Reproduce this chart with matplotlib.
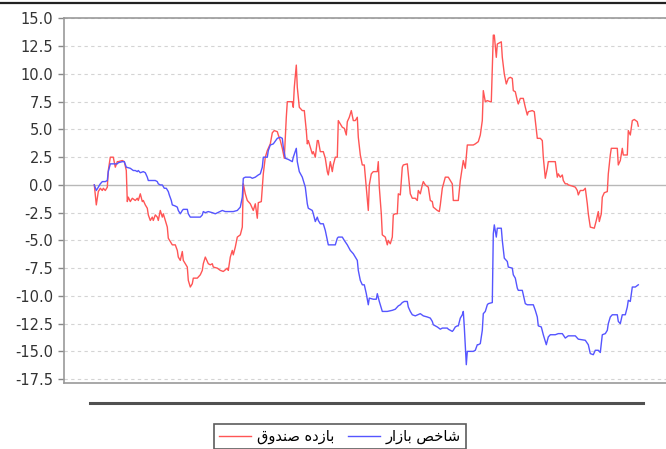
import matplotlib
matplotlib.use("Agg")
import matplotlib.pyplot as plt
from matplotlib.lines import Line2D
from matplotlib.ticker import FormatStrFormatter

# ---------------- data ----------------
series_names = ["بازده صندوق", "شاخص بازار"]   # fund return, market index

fund_t = [0, 2, 4, 6, 8, 9, 11, 13, 14, 16, 19, 21, 23, 24, 28, 30, 32, 33, 34, 36,
          38, 41, 43, 44, 46, 48, 49, 51, 53, 54, 56, 58, 59, 61, 63, 64, 66, 68, 69, 71,
          73, 74, 76, 78, 81, 83, 84, 86, 88, 89, 91, 93, 94, 96, 98, 99, 103, 106, 108, 109,
          111, 114, 116, 118, 119, 123, 126, 129, 133, 134, 136, 138, 139, 141, 143, 146, 148, 149, 151, 153,
          156, 159, 161, 163, 164, 167, 169, 171, 173, 176, 178, 180, 183, 184, 186, 188, 190, 192, 193, 198,
          199, 200, 202, 203, 205, 208, 210, 212, 213, 214, 216, 218, 219, 221, 223, 224, 226, 229, 231, 233,
          234, 236, 238, 239, 241, 243, 244, 246, 248, 250, 252, 253, 255, 257, 259, 261, 263, 264, 266, 268,
          270, 272, 274, 275, 277, 279, 283, 284, 285, 287, 288, 291, 293, 294, 296, 298, 299, 301, 303, 304,
          306, 308, 309, 313, 314, 316, 318, 321, 323, 324, 326, 328, 329, 331, 334, 336, 338, 339, 343, 345,
          346, 348, 351, 354, 358, 359, 363, 364, 366, 368, 369, 371, 373, 379, 381, 384, 386, 388, 389, 391,
          393, 396, 397, 399, 400, 402, 403, 407, 408, 410, 412, 414, 416, 418, 419, 421, 423, 424, 426, 429,
          431, 433, 434, 438, 440, 441, 443, 446, 448, 449, 451, 453, 454, 461, 463, 464, 466, 468, 469, 471,
          473, 474, 478, 481, 483, 484, 486, 489, 491, 493, 494, 496, 500, 502, 504, 505, 507, 508, 510, 513,
          514, 516, 517, 521, 523, 524, 526, 528, 529, 533, 534, 536, 538, 540, 543, 544]
fund_v = [0.0, -1.8, -0.6, -0.3, -0.5, -0.3, -0.5, -0.2, 1.3, 2.5, 2.5, 1.6, 2.1, 2.1, 2.2, 2.1, 1.3, -1.5, -1.1, -1.5,
          -1.2, -1.4, -1.2, -1.4, -0.8, -1.5, -1.4, -1.8, -2.1, -2.7, -3.2, -2.9, -3.2, -2.7, -2.9, -3.2, -2.3, -2.9, -2.6, -3.2,
          -3.8, -4.8, -5.1, -5.4, -5.4, -5.9, -6.5, -6.8, -6.0, -6.8, -7.1, -7.4, -8.6, -9.2, -8.9, -8.4, -8.4, -8.1, -7.7, -7.1,
          -6.5, -7.1, -7.2, -7.1, -7.4, -7.5, -7.7, -7.8, -7.5, -7.7, -6.5, -5.9, -6.3, -5.6, -4.7, -4.5, -3.8, 0.1, -0.8, -1.4,
          -1.7, -2.3, -1.7, -3.0, -1.6, -1.5, 1.0, 2.5, 3.1, 3.7, 4.7, 4.9, 4.8, 4.5, 4.0, 3.3, 2.4, 6.1, 7.5, 7.5,
          7.0, 8.8, 10.8, 8.8, 7.0, 6.7, 6.7, 4.9, 3.7, 4.0, 3.4, 2.8, 3.0, 2.5, 4.0, 4.0, 3.0, 3.0, 2.4, 1.2,
          0.9, 2.1, 1.2, 1.8, 2.5, 2.5, 5.8, 5.5, 5.2, 5.1, 4.5, 5.7, 6.1, 6.7, 5.8, 5.8, 6.1, 4.3, 2.7, 1.8,
          1.8, -0.2, -2.3, 0.0, 1.0, 1.2, 1.2, 2.1, -0.2, -2.6, -4.5, -4.7, -5.4, -5.0, -5.3, -4.7, -2.7, -2.6, -2.6, -0.8,
          -0.9, 1.6, 1.8, 1.9, 1.0, -0.8, -1.2, -1.2, -1.4, -0.5, -0.8, 0.0, 0.3, 0.0, -0.2, -1.4, -1.5, -2.0, -2.3, -2.4,
          -1.8, -0.3, 0.7, 0.7, 0.1, -1.4, -1.4, -1.4, 0.4, 1.6, 2.2, 1.5, 3.6, 3.6, 3.7, 3.9, 4.5, 5.8, 8.5, 7.5,
          7.6, 7.5, 7.5, 13.5, 13.5, 11.5, 12.7, 12.9, 11.5, 10.0, 9.1, 9.6, 9.7, 9.6, 8.5, 8.4, 7.6, 7.3, 7.8, 7.8,
          7.0, 6.3, 6.6, 6.7, 6.6, 5.8, 4.2, 4.2, 4.0, 2.5, 0.6, 1.5, 2.1, 2.1, 0.7, 1.0, 0.7, 0.9, 0.4, 0.1,
          0.1, 0.0, -0.1, -0.2, -0.5, -0.9, -0.5, -0.5, -0.3, -1.7, -2.6, -3.8, -3.9, -3.2, -2.4, -3.3, -2.6, -1.1, -0.7, -0.6,
          1.0, 2.7, 3.3, 3.3, 3.3, 1.8, 2.2, 3.3, 2.7, 2.7, 4.9, 4.5, 5.8, 5.9, 5.7, 5.3]

index_t = [0, 2, 4, 6, 8, 11, 13, 14, 16, 19, 23, 24, 28, 30, 32, 36, 39, 41, 43, 44,
           46, 49, 51, 53, 54, 61, 63, 64, 66, 68, 70, 72, 74, 75, 77, 78, 81, 83, 84, 86,
           88, 89, 93, 94, 96, 101, 106, 108, 109, 111, 114, 118, 121, 128, 131, 139, 143, 146, 148, 149,
           151, 156, 158, 161, 164, 166, 168, 169, 173, 174, 176, 179, 183, 186, 188, 189, 191, 194, 198, 199,
           202, 203, 205, 208, 211, 213, 214, 218, 219, 221, 223, 224, 226, 229, 231, 233, 234, 241, 243, 244,
           248, 250, 253, 256, 259, 261, 263, 264, 266, 268, 270, 272, 274, 275, 279, 282, 283, 285, 288, 293,
           298, 301, 304, 306, 308, 310, 313, 314, 316, 318, 321, 326, 329, 333, 336, 338, 339, 343, 346, 348,
           353, 354, 356, 358, 359, 361, 363, 364, 366, 368, 369, 370, 372, 373, 379, 381, 383, 384, 386, 388,
           389, 391, 393, 394, 398, 399, 400, 402, 403, 406, 407, 408, 410, 413, 414, 418, 419, 421, 423, 424,
           428, 429, 431, 433, 439, 441, 443, 444, 447, 449, 452, 454, 456, 461, 464, 468, 471, 474, 481, 484,
           491, 494, 496, 499, 501, 504, 506, 508, 511, 513, 514, 516, 518, 523, 524, 526, 528, 531, 533, 534,
           536, 538, 541, 544]
index_v = [0.0, -0.5, -0.2, 0.1, 0.3, 0.3, 0.4, 1.2, 1.9, 1.9, 1.9, 2.0, 2.1, 2.1, 1.6, 1.5, 1.3, 1.3, 1.2, 1.3,
           1.1, 1.2, 1.1, 0.7, 0.4, 0.4, 0.3, 0.1, 0.0, 0.0, -0.3, -0.3, -0.6, -0.9, -1.4, -1.8, -1.9, -2.0, -2.3, -2.6,
           -2.3, -2.2, -2.2, -2.6, -2.9, -2.9, -2.9, -2.7, -2.4, -2.5, -2.4, -2.5, -2.6, -2.3, -2.4, -2.4, -2.3, -2.0, -1.1, 0.6,
           0.7, 0.7, 0.6, 0.7, 0.9, 1.0, 1.6, 2.5, 2.5, 3.1, 3.6, 3.7, 4.2, 4.3, 4.2, 3.4, 2.4, 2.3, 2.1, 2.5,
           3.3, 2.1, 1.2, 0.7, -0.2, -1.7, -2.1, -2.3, -2.6, -3.3, -2.9, -3.2, -3.5, -3.5, -4.1, -5.0, -5.4, -5.4, -4.8, -4.7,
           -4.7, -5.0, -5.4, -5.9, -6.2, -6.5, -6.8, -7.7, -8.6, -9.0, -9.0, -9.8, -10.8, -10.2, -10.3, -10.3, -9.8, -10.5, -11.4, -11.4,
           -11.3, -11.2, -10.9, -10.8, -10.6, -10.5, -10.5, -11.0, -11.4, -11.7, -11.8, -11.6, -11.8, -11.9, -12.0, -12.3, -12.6, -12.8, -13.0, -12.9,
           -12.9, -13.0, -13.1, -13.2, -13.1, -12.8, -12.7, -12.7, -12.0, -11.7, -11.4, -12.8, -16.2, -15.0, -15.0, -14.9, -14.4, -14.4, -14.3, -13.1,
           -11.6, -11.4, -10.8, -10.7, -10.6, -4.4, -3.6, -4.7, -3.9, -3.9, -3.9, -5.0, -6.6, -6.9, -7.4, -7.5, -8.1, -8.4, -9.3, -9.5,
           -9.5, -9.9, -10.7, -10.8, -10.8, -11.3, -11.9, -12.7, -12.8, -13.5, -14.4, -13.7, -13.5, -13.5, -13.4, -13.4, -13.8, -13.6, -13.6, -13.9,
           -14.0, -14.4, -15.2, -15.3, -14.9, -14.9, -15.1, -13.5, -13.4, -13.1, -12.5, -11.9, -11.7, -11.7, -12.3, -12.5, -11.7, -11.7, -11.0, -10.4,
           -10.5, -9.2, -9.2, -9.0]

y_ticks = [15.0, 12.5, 10.0, 7.5, 5.0, 2.5, 0.0, -2.5, -5.0, -7.5, -10.0, -12.5, -15.0, -17.5]

# ---------------- simple Arabic/Persian shaping for display ----------------
FORMS = {  # isolated, final, initial, medial
    '\u0627': ('\uFE8D', '\uFE8E', None, None),
    '\u0628': ('\uFE8F', '\uFE90', '\uFE91', '\uFE92'),
    '\u062E': ('\uFEA5', '\uFEA6', '\uFEA7', '\uFEA8'),
    '\u062F': ('\uFEA9', '\uFEAA', None, None),
    '\u0631': ('\uFEAD', '\uFEAE', None, None),
    '\u0632': ('\uFEAF', '\uFEB0', None, None),
    '\u0634': ('\uFEB5', '\uFEB6', '\uFEB7', '\uFEB8'),
    '\u0635': ('\uFEB9', '\uFEBA', '\uFEBB', '\uFEBC'),
    '\u0642': ('\uFED5', '\uFED6', '\uFED7', '\uFED8'),
    '\u0646': ('\uFEE5', '\uFEE6', '\uFEE7', '\uFEE8'),
    '\u0647': ('\uFEE9', '\uFEEA', '\uFEEB', '\uFEEC'),
    '\u0648': ('\uFEED', '\uFEEE', None, None),
}


def shape(text):
    out = []
    n = len(text)
    for i, ch in enumerate(text):
        f = FORMS.get(ch)
        if f is None:
            out.append(ch)
            continue
        prev = text[i - 1] if i > 0 else None
        nxt = text[i + 1] if i < n - 1 else None
        jp = prev in FORMS and FORMS[prev][2] is not None
        jn = f[2] is not None and nxt in FORMS
        if jp and jn:
            out.append(f[3])
        elif jp:
            out.append(f[1])
        elif jn:
            out.append(f[2])
        else:
            out.append(f[0])
    return ''.join(reversed(out))


# ---------------- figure ----------------
W, H = 666, 449
fig = plt.figure(figsize=(W / 100, H / 100), dpi=100)
fig.patch.set_facecolor('white')

ax = fig.add_axes([64 / W, (H - 383) / H, (672 - 64) / W, (383 - 18.5) / H])
ax.set_facecolor('white')

ax.plot(fund_t, fund_v, color='#ff5555', lw=1.0, zorder=3)
ax.plot(index_t, index_v, color='#5555ff', lw=1.0, zorder=3)

ax.set_xlim(-30.3, 577.7)
ax.set_ylim(-17.85, 15.0)
ax.set_yticks(y_ticks)
ax.yaxis.set_major_formatter(FormatStrFormatter('%.1f'))
ax.set_xticks([])

for v in y_ticks:
    if v == 0:
        ax.axhline(v, color='#b8b8b8', lw=1.0, zorder=1)
    else:
        ax.axhline(v, color='#d4d4d4', lw=0.8, ls=(0, (3, 3)), zorder=1)

for s in ['left', 'bottom', 'top']:
    ax.spines[s].set_color('#999999')
    ax.spines[s].set_linewidth(1.2)
ax.spines['right'].set_visible(False)
ax.tick_params(axis='y', colors='#888888', length=4, width=1, pad=4,
               labelsize=10.5, labelcolor='#333333')

# top dark rule and lower rule
fig.add_artist(Line2D([0, 1], [1 - 3 / H, 1 - 3 / H], color='#222222', lw=1.6))
fig.add_artist(Line2D([90 / W, 643 / W], [1 - 403 / H, 1 - 403 / H], color='#505050', lw=2.2))

handles = [Line2D([], [], color='#ff5555', lw=1.0), Line2D([], [], color='#5555ff', lw=1.0)]
leg = fig.legend(handles, [shape(s) for s in series_names], loc='upper left',
                 bbox_to_anchor=(214 / W, 1 - 424 / H), ncol=2, frameon=True,
                 fancybox=False, prop={'family': 'DejaVu Sans', 'size': 10.5},
                 handlelength=2.2, handletextpad=0.4, columnspacing=0.9,
                 borderpad=0.35, borderaxespad=0)
leg.get_frame().set_edgecolor('#333333')
leg.get_frame().set_linewidth(1.2)

fig.savefig('out.png', dpi=100, facecolor='white')
